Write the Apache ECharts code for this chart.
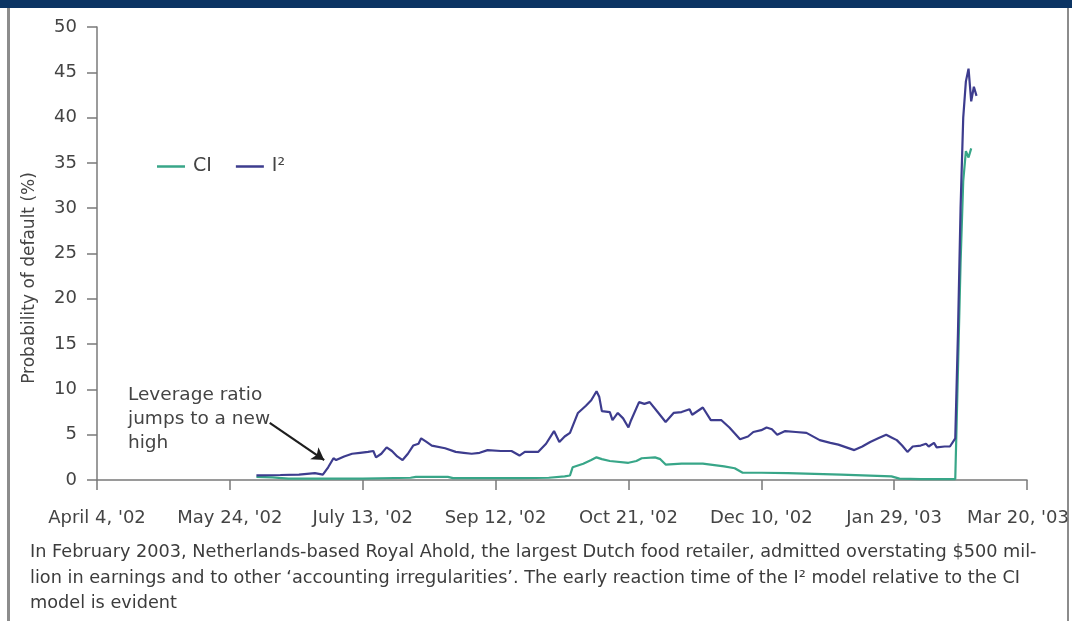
<!DOCTYPE html>
<html>
<head>
<meta charset="utf-8">
<title>Royal Ahold probability of default</title>
<script src="https://cdn.jsdelivr.net/npm/echarts@6/dist/echarts.min.js"></script>
<style>
  html, body { margin: 0; padding: 0; background: #ffffff; }
  #chart { width: 1072px; height: 621px; }
</style>
</head>
<body>
<div id="chart"></div>
<script>
// Day offsets counted from April 4, 2002; one tick every 50 days
const tickLabels = ["April 4, '02", "May 24, '02", "July 13, '02", "Sep 12, '02",
  "Oct 21, '02", "Dec 10, '02", "Jan 29, '03", "Mar 20, '03"];

// I² model, probability of default (%)
const i2Days = [60, 69, 76, 82, 85, 87, 89, 90, 93, 96, 99, 102, 104, 105, 107, 109, 111, 113, 115, 117,
  119, 121, 122, 124, 126, 131, 135, 138, 141, 144, 147, 152, 156, 159, 161, 166, 169, 172, 174, 176,
  178, 181, 184, 186, 188, 189, 190, 193, 194, 196, 198, 200, 201, 204, 206, 208, 211, 214, 217, 220,
  223, 224, 228, 231, 235, 238, 242, 245, 247, 250, 252, 254, 256, 259, 263, 267, 272, 276, 279, 282,
  285, 288, 291, 294, 297, 299, 301, 303, 305, 307, 310, 312, 313, 315, 316, 319, 321, 323, 324, 325,
  326, 327, 328, 329, 330, 331];
const i2Values = [0.5, 0.55, 0.6, 0.75, 0.6, 1.4, 2.4, 2.2, 2.6, 2.9, 3.0, 3.1, 3.2, 2.5, 2.9, 3.6, 3.2, 2.6, 2.2, 2.9,
  3.8, 4.0, 4.6, 4.2, 3.8, 3.5, 3.1, 3.0, 2.9, 3.0, 3.3, 3.2, 3.2, 2.7, 3.1, 3.1, 4.0, 5.4, 4.2, 4.8,
  5.2, 7.4, 8.2, 8.8, 9.8, 9.2, 7.6, 7.5, 6.6, 7.4, 6.8, 5.8, 6.6, 8.6, 8.4, 8.6, 7.5, 6.4, 7.4, 7.5,
  7.8, 7.2, 8.0, 6.6, 6.6, 5.8, 4.5, 4.8, 5.3, 5.5, 5.8, 5.6, 5.0, 5.4, 5.3, 5.2, 4.4, 4.1, 3.9, 3.6,
  3.3, 3.7, 4.2, 4.6, 5.0, 4.7, 4.4, 3.8, 3.1, 3.7, 3.8, 4.0, 3.7, 4.1, 3.6, 3.7, 3.7, 4.6, 16, 30,
  40, 44, 45.4, 41.8, 43.4, 42.4];

// CI model, probability of default (%)
const ciDays = [60, 66, 72, 100, 118, 120, 132, 134, 160, 170, 176, 178, 179, 183, 186, 188, 190, 193, 200, 203,
  205, 210, 212, 214, 220, 228, 236, 240, 243, 250, 260, 280, 299, 302, 310, 323, 324, 325, 326, 327,
  328, 329];
const ciValues = [0.35, 0.3, 0.15, 0.15, 0.25, 0.35, 0.35, 0.2, 0.2, 0.25, 0.4, 0.5, 1.4, 1.8, 2.2, 2.5, 2.3, 2.1, 1.9, 2.1,
  2.4, 2.5, 2.3, 1.7, 1.8, 1.8, 1.5, 1.3, 0.8, 0.8, 0.75, 0.6, 0.4, 0.15, 0.1, 0.1, 12, 24, 33, 36.3,
  35.6, 36.6];

// Annotation arrow, in data units: [day, value] start and end
const arrowFrom = [65, 6.3];
const arrowTo = [85.5, 2.2];

const pairs = (xs, ys) => xs.map((x, i) => [x, ys[i]]);

const FONT = 'DejaVu Sans';
const TEXT = '#444444';
const AXIS = '#7a7a7a';
const CI_COLOR = '#38a688';
const I2_COLOR = '#3d3c8e';

const chart = echarts.init(document.getElementById('chart'), null, { renderer: 'canvas' });

chart.setOption({
  backgroundColor: '#ffffff',
  animation: false,
  grid: { left: 97, right: 45, top: 27, bottom: 141, containLabel: false, outerBoundsMode: 'none' },
  legend: {
    left: 152, top: 152,
    icon: 'rect',
    itemWidth: 28, itemHeight: 2.5, itemGap: 24,
    textStyle: { fontFamily: FONT, fontSize: 19, color: TEXT, padding: [0, 0, 0, 3] },
    data: ['CI', 'I²']
  },
  xAxis: {
    type: 'value', min: 0, max: 350, interval: 50,
    axisLine: { show: true, lineStyle: { color: AXIS, width: 1.5 } },
    axisTick: { show: true, length: 10, lineStyle: { color: AXIS, width: 1.5 } },
    splitLine: { show: false },
    axisLabel: {
      margin: 29, fontFamily: FONT, fontSize: 18, color: TEXT,
      // the final date sits a little left of its tick, inside the frame
      formatter: v => {
        const i = Math.round(v / 50);
        const t = tickLabels[i] || '';
        return i === tickLabels.length - 1 ? '{last|' + t + '}' : t;
      },
      rich: {
        last: { fontFamily: FONT, fontSize: 18, color: TEXT, padding: [0, 18, 0, 0] }
      }
    }
  },
  yAxis: {
    type: 'value', min: 0, max: 50, interval: 5,
    axisLine: { show: true, lineStyle: { color: AXIS, width: 1.5 } },
    axisTick: { show: true, length: 10, lineStyle: { color: AXIS, width: 1.5 } },
    splitLine: { show: false },
    axisLabel: { margin: 20, fontFamily: FONT, fontSize: 18, color: TEXT }
  },
  series: [
    {
      name: 'CI', type: 'line', symbol: 'none', smooth: false,
      lineStyle: { color: CI_COLOR, width: 2.2 },
      itemStyle: { color: CI_COLOR },
      data: pairs(ciDays, ciValues),
      z: 2
    },
    {
      name: 'I²', type: 'line', symbol: 'none', smooth: false,
      lineStyle: { color: I2_COLOR, width: 2.2 },
      itemStyle: { color: I2_COLOR },
      data: pairs(i2Days, i2Values),
      z: 3,
      markLine: {
        silent: true,
        symbol: ['none', 'arrow'],
        symbolSize: [11, 12],
        label: { show: false },
        lineStyle: { color: '#1e1e1e', width: 2.2, type: 'solid' },
        data: [[{ coord: arrowFrom }, { coord: arrowTo }]]
      }
    }
  ],
  graphic: [
    // navy band across the top and the grey frame edges
    { type: 'rect', shape: { x: 0, y: 0, width: 1072, height: 8 }, style: { fill: '#0b3463' } },
    { type: 'rect', shape: { x: 7, y: 8, width: 3, height: 613 }, style: { fill: '#8c8c8c' } },
    { type: 'rect', shape: { x: 1067, y: 8, width: 2, height: 613 }, style: { fill: '#8c8c8c' } },
    // y axis title
    {
      type: 'text', x: 30, y: 278, rotation: Math.PI / 2,
      style: {
        text: 'Probability of default (%)',
        font: '17px "DejaVu Sans"', fill: TEXT,
        align: 'center', verticalAlign: 'middle'
      }
    },
    // annotation text
    {
      type: 'text', left: 128, top: 383,
      style: {
        text: 'Leverage ratio\njumps to a new\nhigh',
        font: '18.5px "DejaVu Sans"', fill: TEXT, lineHeight: 24
      }
    },
    // caption
    {
      type: 'text', left: 30, top: 540,
      style: {
        text: 'In February 2003, Netherlands-based Royal Ahold, the largest Dutch food retailer, admitted overstating $500 mil-\n' +
              'lion in earnings and to other ‘accounting irregularities’. The early reaction time of the I² model relative to the CI\n' +
              'model is evident',
        font: '17.7px "DejaVu Sans"', fill: '#3c3c3c', lineHeight: 25.5
      }
    }
  ]
});
</script>
</body>
</html>
